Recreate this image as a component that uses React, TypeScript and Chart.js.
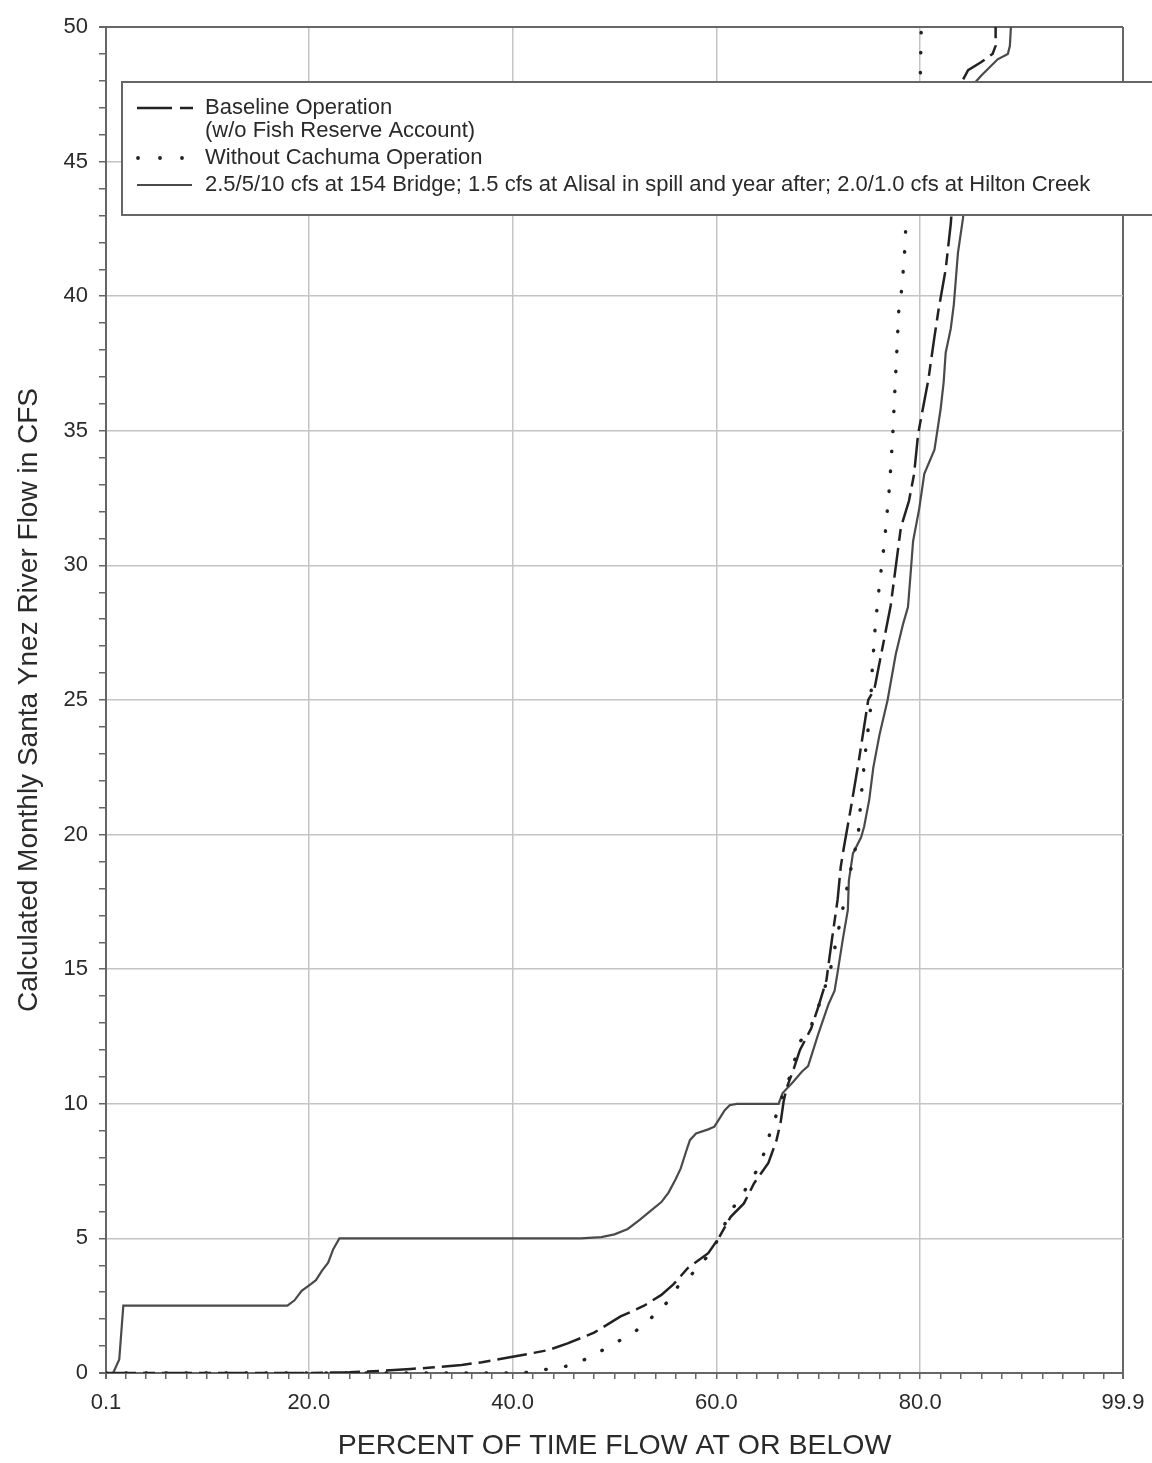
import React, { useEffect, useRef } from "react";
import { Chart, registerables } from "chart.js";

Chart.register(...registerables);

// ---- Data (percent of time flow at or below, flow in cfs) ----
const proposedPct = [0.8, 1.4, 1.8, 17.9, 18.6, 19.3, 20.2, 20.7, 21.3, 21.9, 22.4, 23.0, 46.7, 48.7, 50.0, 51.3, 52.5, 53.3, 54.6, 55.3, 56.0, 56.5, 57.0, 57.4, 58.0, 59.2, 59.8, 60.3, 60.8, 61.3, 62.0, 66.1, 66.5, 67.5, 68.4, 69.0, 70.0, 71.0, 71.6, 71.9, 72.4, 72.9, 73.0, 73.4, 74.2, 74.5, 75.0, 75.4, 76.0, 76.8, 77.6, 78.3, 78.8, 79.1, 79.3, 79.9, 80.4, 81.4, 81.8, 82.0, 82.3, 82.5, 83.0, 83.3, 83.7, 84.2, 84.7, 85.3, 86.0, 87.6, 88.6, 88.8, 88.9];
const proposedFlow = [0, 0.5, 2.5, 2.5, 2.7, 3.05, 3.3, 3.45, 3.8, 4.1, 4.6, 5.0, 5.0, 5.05, 5.15, 5.35, 5.7, 5.95, 6.35, 6.7, 7.2, 7.6, 8.2, 8.65, 8.9, 9.05, 9.15, 9.45, 9.75, 9.95, 10.0, 10.0, 10.4, 10.8, 11.2, 11.4, 12.6, 13.7, 14.2, 14.9, 16.1, 17.2, 18.3, 19.3, 19.9, 20.3, 21.3, 22.5, 23.7, 25.0, 26.7, 27.8, 28.45, 29.9, 30.9, 32.1, 33.4, 34.3, 35.3, 35.8, 36.8, 37.9, 38.8, 39.7, 41.6, 42.9, 45.0, 47.9, 48.2, 48.8, 49.0, 49.3, 50];

const baselinePct = [0.1, 20.0, 24.0, 27.0, 30.0, 32.0, 35.0, 37.0, 40.0, 43.5, 45.4, 48.0, 50.6, 52.9, 54.6, 55.8, 57.2, 59.2, 60.2, 61.4, 62.7, 63.7, 65.1, 65.9, 66.3, 66.6, 66.9, 67.5, 68.2, 69.3, 70.0, 70.8, 71.3, 71.9, 72.2, 72.5, 73.2, 74.0, 74.9, 75.5, 77.1, 78.1, 78.9, 79.4, 79.8, 80.4, 80.8, 81.4, 81.8, 82.5, 83.0, 83.5, 84.0, 84.7, 86.0, 87.1, 87.4, 87.4];
const baselineFlow = [0, 0, 0.03, 0.08, 0.15, 0.2, 0.3, 0.4, 0.6, 0.85, 1.1, 1.5, 2.1, 2.5, 2.9, 3.3, 3.9, 4.45, 5.0, 5.8, 6.3, 7.05, 7.8, 8.65, 9.3, 10.1, 10.6, 11.2, 12.0, 12.8, 13.6, 14.6, 16.0, 17.6, 18.8, 19.5, 21.0, 22.8, 25.0, 25.4, 28.5, 31.4, 32.4, 33.4, 34.9, 36.1, 36.9, 38.5, 39.5, 41.0, 42.7, 45.3, 47.9, 48.4, 48.7, 49.0, 49.3, 50];

const noCachumaPct = [0.1, 41.0, 41.8, 44.1, 46.0, 48.0, 50.0, 51.9, 53.4, 55.1, 56.2, 57.8, 59.5, 60.6, 61.2, 62.5, 64.4, 64.9, 65.8, 66.4, 67.2, 68.2, 69.3, 70.3, 71.2, 72.0, 72.7, 73.4, 73.9, 74.2, 74.6, 75.1, 75.3, 75.6, 76.0, 76.5, 77.0, 77.3, 77.5, 77.7, 77.9, 78.2, 78.5, 78.6, 79.2, 79.8, 80.0, 80.1];
const noCachumaFlow = [0, 0, 0.05, 0.18, 0.3, 0.67, 1.1, 1.5, 1.97, 2.6, 3.2, 3.75, 4.5, 5.3, 5.9, 6.6, 7.8, 8.5, 9.5, 10.2, 11.0, 12.3, 12.9, 13.9, 15.0, 16.5, 17.8, 19.1, 19.9, 21.4, 23.0, 24.6, 26.2, 27.8, 29.3, 30.9, 33.0, 34.8, 36.4, 37.9, 39.5, 40.3, 41.8, 42.7, 45.0, 47.5, 48.0, 50];

const xMajorTicks = [0.1, 20, 40, 60, 80, 99.9];
const yMajorTicks = [0, 5, 10, 15, 20, 25, 30, 35, 40, 45, 50];

const legendLabels = [
  "Baseline Operation",
  "(w/o Fish Reserve Account)",
  "Without Cachuma Operation",
  "2.5/5/10 cfs at 154 Bridge; 1.5 cfs at Alisal in spill and year after; 2.0/1.0 cfs at Hilton Creek",
];
const xTitle = "PERCENT OF TIME FLOW AT OR BELOW";
const yTitle = "Calculated Monthly Santa Ynez River Flow in CFS";

const FONT = "'Liberation Sans', Arial, sans-serif";
const DARK = "#222";
const SOLID = "#4a4a4a";
const GRID = "#c4c4c4";
const BORDER = "#666";
const TEXT = "#2a2a2a";

const toPts = (xs: number[], ys: number[]) => xs.map((x, i) => ({ x, y: ys[i] }));

const xTickValues: number[] = (() => {
  const v: number[] = [0.1];
  for (let p = 2; p <= 98; p += 2) v.push(p);
  v.push(99.9);
  return v;
})();

const legendPlugin = {
  id: "boxLegend",
  afterDatasetsDraw(chart: any) {
    const ctx = chart.ctx as CanvasRenderingContext2D;
    const a = chart.chartArea;
    const bx = a.left + 16;
    const by = a.top + 55;
    const bw = 1200;
    const bh = 133;
    ctx.save();
    ctx.fillStyle = "#fff";
    ctx.fillRect(bx, by, bw, bh);
    ctx.strokeStyle = BORDER;
    ctx.lineWidth = 2;
    ctx.strokeRect(bx, by, bw, bh);

    const sx = bx + 15;
    const tx = bx + 83;
    const rows = [by + 26, by + 49, by + 76, by + 103];

    // dashed sample
    ctx.strokeStyle = DARK;
    ctx.lineWidth = 2.5;
    ctx.beginPath();
    ctx.moveTo(sx, rows[0]);
    ctx.lineTo(sx + 35, rows[0]);
    ctx.moveTo(sx + 43, rows[0]);
    ctx.lineTo(sx + 56, rows[0]);
    ctx.stroke();
    // dots sample
    ctx.fillStyle = DARK;
    [0, 22, 44].forEach((d) => {
      ctx.beginPath();
      ctx.arc(sx + 1 + d, rows[2], 1.9, 0, Math.PI * 2);
      ctx.fill();
    });
    // solid sample
    ctx.strokeStyle = SOLID;
    ctx.lineWidth = 2.2;
    ctx.beginPath();
    ctx.moveTo(sx, rows[3]);
    ctx.lineTo(sx + 55, rows[3]);
    ctx.stroke();

    ctx.fillStyle = TEXT;
    ctx.font = `22px ${FONT}`;
    ctx.textBaseline = "middle";
    ctx.textAlign = "left";
    legendLabels.forEach((t, i) => ctx.fillText(t, tx, rows[i]));
    ctx.restore();
  },
};

export default function App() {
  const ref = useRef<HTMLCanvasElement | null>(null);

  useEffect(() => {
    if (!ref.current) return;
    const chart = new Chart(ref.current, {
      type: "line",
      data: {
        datasets: [
          {
            label: "Baseline Operation (w/o Fish Reserve Account)",
            data: toPts(baselinePct, baselineFlow),
            borderColor: DARK,
            borderWidth: 2.5,
            borderDash: [30, 7, 12, 7],
            pointRadius: 0,
            tension: 0,
          },
          {
            label: "Without Cachuma Operation",
            data: toPts(noCachumaPct, noCachumaFlow),
            borderColor: DARK,
            borderWidth: 3.4,
            borderDash: [0.5, 19.5],
            borderCapStyle: "round",
            pointRadius: 0,
            tension: 0,
          },
          {
            label: legendLabels[3],
            data: toPts(proposedPct, proposedFlow),
            borderColor: SOLID,
            borderWidth: 2.2,
            pointRadius: 0,
            tension: 0,
          },
        ],
      },
      options: {
        animation: false,
        responsive: false,
        maintainAspectRatio: false,
        parsing: false as any,
        layout: { padding: { top: 27, right: 29, left: 0, bottom: 0 } },
        plugins: {
          legend: { display: false },
          tooltip: { enabled: false },
        },
        scales: {
          x: {
            type: "linear",
            min: 0.1,
            max: 99.9,
            afterBuildTicks: (s: any) => {
              s.ticks = xTickValues.map((v) => ({ value: v }));
            },
            afterFit: (s: any) => {
              s.height = 90;
              s.paddingLeft = 0;
              s.paddingRight = 0;
            },
            grid: {
              color: (c: any) => {
                const v = c.tick?.value;
                if (v === 0.1 || v === 99.9) return BORDER;
                return xMajorTicks.includes(v) ? GRID : "rgba(0,0,0,0)";
              },
              lineWidth: (c: any) => {
                const v = c.tick?.value;
                return v === 0.1 || v === 99.9 ? 2 : 1.5;
              },
              tickColor: BORDER,
              tickLength: 6,
              drawTicks: true,
            },
            border: { display: true, color: BORDER, width: 2 },
            ticks: {
              autoSkip: false,
              maxRotation: 0,
              padding: 11,
              color: TEXT,
              font: { family: FONT, size: 22 },
              callback: (v: any) => (xMajorTicks.includes(v) ? Number(v).toFixed(1) : ""),
            },
            title: {
              display: true,
              text: xTitle,
              color: TEXT,
              font: { family: FONT, size: 28.5, lineHeight: 1.15 },
              padding: { top: 0, bottom: 0 },
            },
          },
          y: {
            type: "linear",
            min: 0,
            max: 50,
            afterFit: (s: any) => {
              s.width = 106;
            },
            ticks: {
              stepSize: 1,
              autoSkip: false,
              padding: 11,
              color: TEXT,
              font: { family: FONT, size: 22 },
              callback: (v: any) => (yMajorTicks.includes(v) ? String(v) : ""),
            },
            grid: {
              color: (c: any) => {
                const v = c.tick?.value;
                if (v === 0 || v === 50) return BORDER;
                return yMajorTicks.includes(v) ? GRID : "rgba(0,0,0,0)";
              },
              lineWidth: (c: any) => {
                const v = c.tick?.value;
                return v === 0 || v === 50 ? 2 : 1.5;
              },
              tickColor: BORDER,
              tickLength: 7,
              drawTicks: true,
            },
            border: { display: true, color: BORDER, width: 2 },
            title: {
              display: true,
              text: yTitle,
              color: TEXT,
              font: { family: FONT, size: 28, lineHeight: 1.2 },
              padding: { top: 12, bottom: 0 },
            },
          },
        },
      },
      plugins: [legendPlugin],
    });
    return () => chart.destroy();
  }, []);

  return (
    <div style={{ position: "absolute", left: 0, top: 0, width: 1152, height: 1463, background: "#fff" }}>
      <canvas ref={ref} width={1152} height={1463} style={{ width: 1152, height: 1463, display: "block" }} />
    </div>
  );
}
